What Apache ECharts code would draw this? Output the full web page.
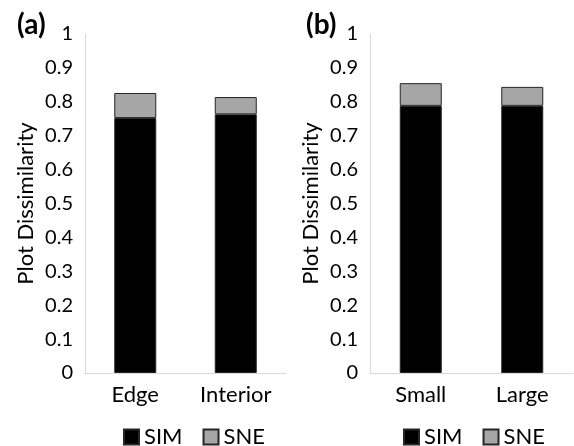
<!DOCTYPE html>
<html>
<head>
<meta charset="utf-8">
<script src="https://cdn.jsdelivr.net/npm/echarts@6/dist/echarts.min.js"></script>
<style>
  html, body { margin: 0; padding: 0; background: #fff; }
  #chart { width: 574px; height: 446px; }
</style>
</head>
<body>
<div id="chart"></div>
<script>
// panel (a): position of plot
var catsA = ['Edge', 'Interior'];
var simA = [0.752, 0.763];
var sneA = [0.074, 0.051];
// panel (b): plot size
var catsB = ['Small', 'Large'];
var simB = [0.788, 0.788];
var sneB = [0.067, 0.056];
var seriesNames = ['SIM', 'SNE'];

var font = 'Lato, "Open Sans", sans-serif';
var textColor = '#000';
var lineColor = '#d9d9d9';

function xAxisFor(cats, idx) {
    return {
        type: 'category',
        gridIndex: idx,
        data: cats,
        axisLine: {lineStyle: {color: lineColor, width: 1}},
        axisTick: {show: false},
        axisLabel: {color: textColor, fontSize: 22, fontFamily: font, margin: 11}
    };
}

function yAxisFor(idx) {
    return {
        type: 'value',
        gridIndex: idx,
        min: 0,
        max: 1,
        interval: 0.1,
        name: 'Plot Dissimilarity',
        nameLocation: 'middle',
        nameGap: 48,
        nameTextStyle: {color: textColor, fontSize: 22, fontFamily: font},
        axisLine: {show: true, lineStyle: {color: lineColor, width: 1}},
        axisTick: {show: false},
        splitLine: {show: false},
        axisLabel: {
            color: textColor, fontSize: 20, fontFamily: font, margin: 12,
            formatter: function (v) { return v === 0 || v === 1 ? String(v) : v.toFixed(1); }
        }
    };
}

function barSeries(name, data, idx, color) {
    return {
        name: name,
        type: 'bar',
        stack: 'tot' + idx,
        xAxisIndex: idx,
        yAxisIndex: idx,
        barWidth: 42,
        data: data,
        itemStyle: {color: color, borderColor: '#262626', borderWidth: 1},
        emphasis: {disabled: true}
    };
}

function legendFor(left) {
    return {
        data: seriesNames,
        left: left,
        top: 421,
        icon: 'rect',
        itemWidth: 15,
        itemHeight: 15,
        itemGap: 20,
        selectedMode: false,
        textStyle: {color: textColor, fontSize: 22, fontFamily: font, padding: [0, 0, 0, 0]}
    };
}

var option = {
    animation: false,
    backgroundColor: '#fff',
    title: [
        {text: '(a)', left: 12, top: 6, textStyle: {fontSize: 28, fontWeight: 'bold', color: '#000', fontFamily: font}},
        {text: '(b)', left: 301, top: 6, textStyle: {fontSize: 28, fontWeight: 'bold', color: '#000', fontFamily: font}}
    ],
    legend: [legendFor(118), legendFor(398)],
    grid: [
        {left: 85, right: 288, top: 34, bottom: 73},
        {left: 370, right: 1, top: 34, bottom: 73}
    ],
    xAxis: [xAxisFor(catsA, 0), xAxisFor(catsB, 1)],
    yAxis: [yAxisFor(0), yAxisFor(1)],
    series: [
        barSeries(seriesNames[0], simA, 0, '#000'),
        barSeries(seriesNames[1], sneA, 0, '#a6a6a6'),
        barSeries(seriesNames[0], simB, 1, '#000'),
        barSeries(seriesNames[1], sneB, 1, '#a6a6a6')
    ]
};

var myChart = echarts.init(document.getElementById('chart'));
myChart.setOption(option);
</script>
</body>
</html>
